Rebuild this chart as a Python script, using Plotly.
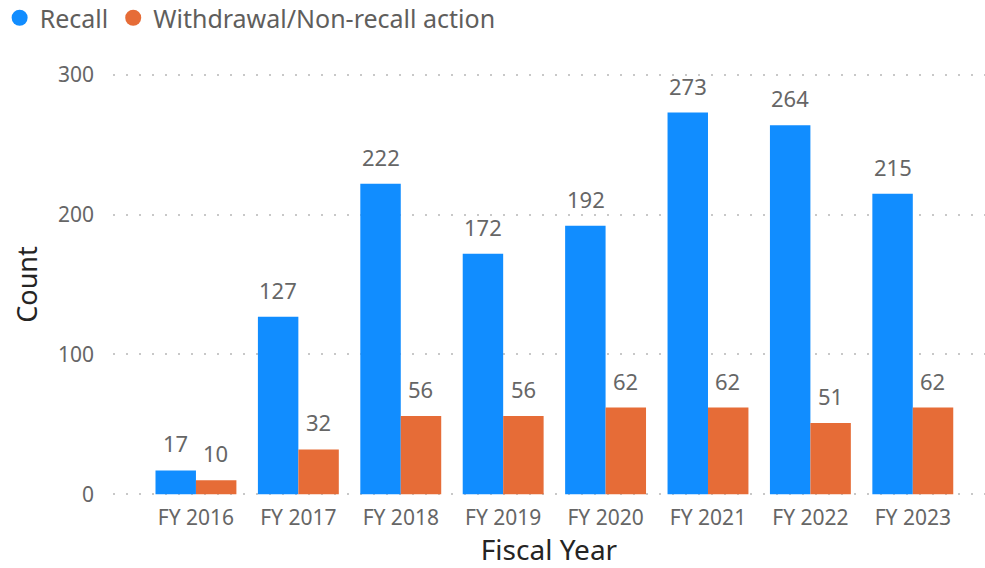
import plotly.graph_objects as go

years = ["FY 2016", "FY 2017", "FY 2018", "FY 2019", "FY 2020", "FY 2021", "FY 2022", "FY 2023"]
recall = [17, 127, 222, 172, 192, 273, 264, 215]
withdrawal = [10, 32, 56, 56, 62, 62, 51, 62]
series_names = ["Recall", "Withdrawal/Non-recall action"]
colors = ["#118DFF", "#E66C37"]
FONT = "Noto Sans, Open Sans, sans-serif"

fig = go.Figure()
for name, vals, col in zip(series_names, [recall, withdrawal], colors):
    fig.add_trace(go.Bar(
        x=years, y=vals, name=name, marker=dict(color=col, line=dict(width=0)),
        showlegend=False,
    ))
for name, col in zip(series_names, colors):
    fig.add_trace(go.Scatter(
        x=[None], y=[None], mode="markers", name=name,
        marker=dict(symbol="circle", size=21, color=col),
    ))

# data labels above bars
for vals, shift in zip([recall, withdrawal], [-20, 20]):
    for yr, v in zip(years, vals):
        fig.add_annotation(x=yr, y=v, text=str(v), showarrow=False,
                           xshift=shift, yshift=10, yanchor="bottom",
                           font=dict(size=22, color="#666666", family=FONT))

fig.update_layout(
    width=985, height=568,
    margin=dict(l=113, r=0, t=72, b=71, autoexpand=False),
    paper_bgcolor="white", plot_bgcolor="white",
    barmode="group", bargap=0.21, bargroupgap=0,
    font=dict(family=FONT, color="#666666"),
    legend=dict(orientation="h", x=-0.13, xanchor="left", y=1.127, yanchor="middle",
                font=dict(size=25, color="#605E5C"), itemwidth=30, tracegroupgap=0,
                itemsizing="trace"),
    xaxis=dict(
        range=[-0.81, 7.705], showgrid=False, showline=False, zeroline=False,
        tickfont=dict(size=21, color="#666666"), ticks="", ticklabelstandoff=6,
        title=dict(text="Fiscal Year", font=dict(size=28, color="#252423"), standoff=21),
    ),
    yaxis=dict(
        range=[-2, 302], tickvals=[0, 100, 200, 300], showline=False, zeroline=False,
        showgrid=True, gridcolor="#C8C8C8", griddash="2px,11px", gridwidth=1.5,
        tickfont=dict(size=21, color="#666666"), ticklabelstandoff=18,
        title=dict(text="Count", font=dict(size=27, color="#252423"), standoff=12),
    ),
)

fig.write_html("out.html", config={"displayModeBar": False},
               post_script="document.body.style.margin='0';")
